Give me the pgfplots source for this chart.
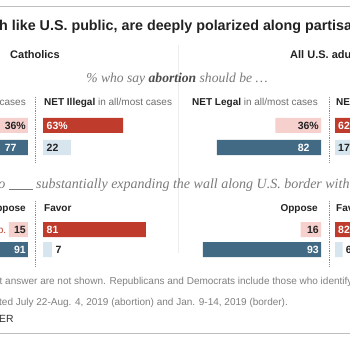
\documentclass[border=0pt]{standalone}
\usepackage{fontspec}
\setmainfont{Liberation Sans}
\newfontfamily\serifit{Liberation Serif}
\newfontfamily\titlefont{Liberation Sans}
\usepackage{pgfplots}
\pgfplotsset{compat=1.18}
\definecolor{pred}{HTML}{BF3B2C}
\definecolor{ppink}{HTML}{F6D0CC}
\definecolor{pblue}{HTML}{436A84}
\definecolor{plight}{HTML}{D7E5EF}
\definecolor{tdark}{HTML}{222222}
\definecolor{tgrey}{HTML}{6E6E6E}
\definecolor{tsub}{HTML}{7A7A7A}
\pgfplotsset{
  colax/.style={scale only axis, width=127pt, height=350pt, xmin=0, xmax=100,
    ymin=0, ymax=350, y dir=reverse, axis lines=none, clip=false},
  barR/.style={xbar, bar width=15, bar shift=0pt, draw=none, fill=#1},
  lab/.style={draw=none, mark=none, nodes near coords, point meta=explicit symbolic,
    every node near coord/.append style={font=\bfseries\fontsize{10.5}{12}\selectfont, inner sep=0pt, #1}},
}
\newcommand{\hdr}[2]{{\color{tdark}\bfseries #1} #2}
\begin{document}
\begin{tikzpicture}
\useasboundingbox (0pt,0pt) rectangle (350pt,350pt);
\clip (0pt,0pt) rectangle (350pt,350pt);
\fill[white] (0pt,0pt) rectangle (350pt,350pt);
% ---------- frame and text ----------
\begin{axis}[at={(0pt,0pt)}, anchor=south west, scale only axis, width=350pt, height=350pt,
  xmin=0, xmax=350, ymin=0, ymax=350, y dir=reverse, axis lines=none, clip=false]
\draw[black!25, line width=0.8pt] (axis cs:-5,6) -- (axis cs:360,6);
\draw[black!25, line width=0.8pt] (axis cs:-5,333) -- (axis cs:360,333);
\node[anchor=base west, inner sep=0pt, text=tdark] at (axis cs:-1,31)
  {\titlefont\bfseries\fontsize{14.3}{17}\selectfont h like U.S. public, are deeply polarized along partisan lines};
\node[anchor=base west, inner sep=0pt, text=tdark] at (axis cs:10,59)
  {\bfseries\fontsize{11}{13}\selectfont Catholics};
\node[anchor=base west, inner sep=0pt, text=tdark] at (axis cs:290,59)
  {\bfseries\fontsize{11}{13}\selectfont All U.S. adults};
\draw[black!7, line width=0.7pt] (axis cs:178,45) -- (axis cs:178,253);
\node[anchor=base, inner sep=0pt, text=tsub] at (axis cs:177,83)
  {\serifit\itshape\fontsize{13.6}{16}\selectfont \% who say {\color{black!70}\bfseries abortion} should be \dots};
% headers
\begin{scope}[every node/.style={inner sep=0pt, text=tgrey, font=\fontsize{10}{12}\selectfont}]
\node[anchor=base east] at (axis cs:26,106) {\hdr{NET Legal}{in all/most cases}};
\node[anchor=base west] at (axis cs:44,106) {\hdr{NET Illegal}{in all/most cases}};
\node[anchor=base east] at (axis cs:318,106) {\hdr{NET Legal}{in all/most cases}};
\node[anchor=base west] at (axis cs:336,106) {\hdr{NET Illegal}{in all/most cases}};
\node[anchor=base east] at (axis cs:26,211) {\hdr{Oppose}{}};
\node[anchor=base west] at (axis cs:44,211) {\hdr{Favor}{}};
\node[anchor=base east] at (axis cs:318,211) {\hdr{Oppose}{}};
\node[anchor=base west] at (axis cs:336,211) {\hdr{Favor}{}};
\end{scope}
\node[anchor=base east, inner sep=0pt, text=tsub] at (axis cs:33,188)
  {\serifit\itshape\fontsize{14}{16}\selectfont \% who \rule[-1.2pt]{24pt}{0.6pt}};
\node[anchor=base west, inner sep=0pt, text=tsub] at (axis cs:36,188)
  {\serifit\itshape\fontsize{14}{16}\selectfont substantially expanding the wall along U.S. border with Mexico};
\node[anchor=base east, inner sep=0pt, text=pred] at (axis cs:6.5,233)
  {\fontsize{10}{12}\selectfont Rep./lean Rep.};
% dotted dividers
\draw[black!45, line width=0.6pt, dash pattern=on 0.6pt off 1.2pt] (axis cs:35,97) -- (axis cs:35,162);
\draw[black!45, line width=0.6pt, dash pattern=on 0.6pt off 1.2pt] (axis cs:35,201) -- (axis cs:35,266);
\draw[black!45, line width=0.6pt, dash pattern=on 0.6pt off 1.2pt] (axis cs:329,97) -- (axis cs:329,162);
\draw[black!45, line width=0.6pt, dash pattern=on 0.6pt off 1.2pt] (axis cs:329,201) -- (axis cs:329,266);
% footer
\begin{scope}[every node/.style={inner sep=0pt, anchor=base west, text=black!50, font=\fontsize{10}{12}\selectfont}]
\node at (axis cs:-0.5,284) {t answer are not shown. Republicans and Democrats include those who identify with or lean toward each party.};
\node at (axis cs:-1,305) {ted July 22-Aug. 4, 2019 (abortion) and Jan. 9-14, 2019 (border).};
\node[text=black!80, font=\fontsize{10.4}{12}\selectfont] at (axis cs:-1,322) {ER};
\end{scope}
\end{axis}
% ---------- Catholics: legal / oppose (grows left) ----------
\begin{axis}[colax, x dir=reverse, at={(28pt,0pt)}, anchor=south east]
\addplot[barR=ppink] coordinates {(36,125.5) (15,229.5)};
\addplot[barR=pblue] coordinates {(77,147.5) (91,249.5)};
\addplot[lab={anchor=east, xshift=-2pt, text=tdark}] coordinates {(0,125.5) [36\%] (0,229.5) [15]};
\addplot[lab={anchor=east, xshift=-2pt, text=white}] coordinates {(0,147.5) [77\phantom{\%}] (0,249.5) [91]};
\end{axis}
% ---------- Catholics: illegal / favor ----------
\begin{axis}[colax, at={(43pt,0pt)}, anchor=south west]
\addplot[barR=pred] coordinates {(63,125.5) (81,229.5)};
\addplot[barR=plight] coordinates {(22,147.5) (7,249.5)};
\addplot[lab={anchor=west, xshift=3.5pt, text=white}] coordinates {(0,125.5) [63\%] (0,229.5) [81]};
\addplot[lab={anchor=west, xshift=3.5pt, text=tdark}] coordinates {(0,147.5) [22] (7,249.5) [7]};
\end{axis}
% ---------- All adults: legal / oppose (grows left) ----------
\begin{axis}[colax, x dir=reverse, at={(321pt,0pt)}, anchor=south east]
\addplot[barR=ppink] coordinates {(36,125.5) (16,229.5)};
\addplot[barR=pblue] coordinates {(82,147.5) (93,249.5)};
\addplot[lab={anchor=east, xshift=-2pt, text=tdark}] coordinates {(0,125.5) [36\%] (0,229.5) [16]};
\addplot[lab={anchor=east, xshift=-2pt, text=white}] coordinates {(0,147.5) [82\phantom{\%}] (0,249.5) [93]};
\end{axis}
% ---------- All adults: illegal / favor ----------
\begin{axis}[colax, at={(335pt,0pt)}, anchor=south west]
\addplot[barR=pred] coordinates {(62,125.5) (82,229.5)};
\addplot[barR=plight] coordinates {(17,147.5) (6,249.5)};
\addplot[lab={anchor=west, xshift=3pt, text=white}] coordinates {(0,125.5) [62\%] (0,229.5) [82]};
\addplot[lab={anchor=west, xshift=3pt, text=tdark}] coordinates {(0,147.5) [17] (6,249.5) [6]};
\end{axis}
\end{tikzpicture}
\end{document}
